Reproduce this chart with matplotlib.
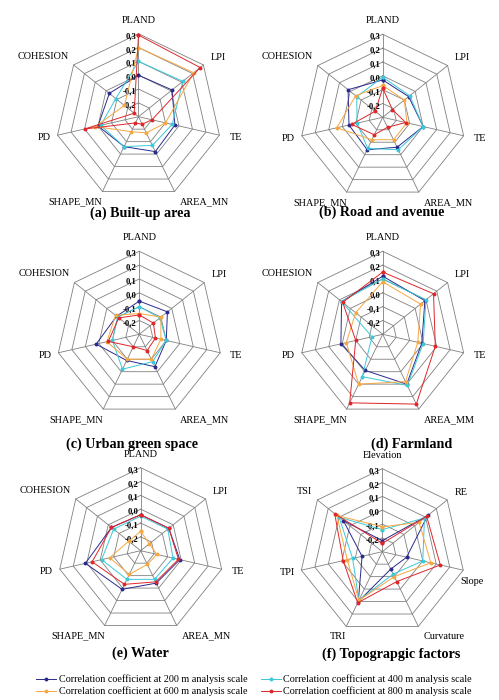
import matplotlib
matplotlib.use("Agg")
import matplotlib.pyplot as plt
from matplotlib.lines import Line2D
import numpy as np

plt.rcParams['font.family'] = ['Liberation Serif', 'DejaVu Serif']

# axis names
landscape_axes = ["PLAND", "LPI", "TE", "AREA_MN", "SHAPE_MN", "PD", "COHESION"]
farmland_axes = ["PLAND", "LPI", "TE", "AREA_MM", "SHAPE_MN", "PD", "COHESION"]
topo_axes = ["Elevation", "RE", "Slope", "Curvature", "TRI", "TPI", "TSI"]

scale_names = ["200 m", "400 m", "600 m", "800 m"]
colors = ["#2a2a8c", "#3cc8d8", "#f5a742", "#e0262a"]

# correlation coefficients, one list per scale (200, 400, 600, 800 m)
built_200 = [0.00, 0.01, -0.03, -0.02, -0.06, 0.00, -0.03]
built_400 = [0.10, 0.11, -0.05, -0.07, -0.06, -0.02, -0.09]
built_600 = [0.20, 0.21, -0.10, -0.17, -0.18, 0.02, -0.17]
built_800 = [0.29, 0.27, -0.20, -0.24, -0.25, 0.10, -0.26]

road_200 = [-0.03, -0.06, 0.00, -0.06, -0.04, -0.05, 0.02]
road_400 = [-0.01, -0.05, 0.00, -0.04, -0.05, -0.11, -0.06]
road_600 = [-0.07, -0.10, -0.12, -0.12, -0.12, 0.04, -0.05]
road_800 = [-0.09, -0.21, -0.13, -0.22, -0.16, -0.07, -0.23]

green_200 = [-0.06, -0.04, -0.10, -0.04, -0.09, 0.02, -0.09]
green_400 = [-0.10, -0.11, -0.10, -0.08, -0.02, -0.10, -0.10]
green_600 = [-0.15, -0.10, -0.14, -0.10, -0.10, -0.06, -0.08]
green_800 = [-0.16, -0.17, -0.18, -0.17, -0.20, -0.07, -0.11]

farm_200 = [0.12, 0.09, -0.01, 0.10, -0.01, 0.01, 0.08]
farm_400 = [0.10, 0.10, 0.00, 0.11, 0.04, -0.22, 0.08]
farm_600 = [0.08, 0.05, -0.04, 0.08, 0.10, -0.03, -0.05]
farm_800 = [0.15, 0.17, 0.09, 0.26, 0.25, -0.10, 0.07]

water_200 = [-0.04, -0.04, -0.01, -0.04, 0.01, 0.11, -0.03]
water_400 = [-0.05, -0.05, -0.06, -0.07, -0.07, -0.01, -0.05]
water_600 = [-0.16, -0.22, -0.18, -0.19, -0.11, -0.07, -0.19]
water_800 = [-0.04, -0.04, -0.02, -0.05, -0.03, 0.06, -0.03]

topo_200 = [-0.22, 0.12, -0.12, -0.16, 0.10, -0.15, 0.06]
topo_400 = [-0.14, 0.09, 0.00, -0.12, 0.09, -0.08, 0.10]
topo_600 = [-0.12, 0.04, 0.06, -0.10, 0.09, -0.04, 0.12]
topo_800 = [-0.24, 0.11, 0.13, -0.06, 0.11, -0.01, 0.14]

tick_levels = [-0.2, -0.1, 0.0, 0.1, 0.2, 0.3]
vmin, vmax = -0.3, 0.3

W, H = 499, 700
R = 83  # outer ring radius in pixels
S = 125  # half size of each panel axes in pixels

fig = plt.figure(figsize=(W / 100, H / 100), dpi=100)

# where each axis name sits relative to its vertex
label_offsets = [(0, 1.11, 'center', 'bottom'),
                 (0.09, 0.04, 'left', 'bottom'),
                 (0.12, -0.03, 'left', 'center'),
                 (0.06, -0.07, 'left', 'top'),
                 (0.0, -0.07, 'right', 'top'),
                 (-0.08, -0.03, 'right', 'center'),
                 (-0.06, 0.05, 'right', 'bottom')]


def to_r(v):
    return (np.asarray(v) - vmin) / (vmax - vmin)


def radar(cx, cy, labels, series, title, tx, ty, extra_offsets=None):
    ax = fig.add_axes([(cx - S) / W, 1 - (cy + S) / H, 2 * S / W, 2 * S / H])
    ax.set_xlim(-S / R, S / R)
    ax.set_ylim(-S / R, S / R)
    ax.axis('off')

    n = len(labels)
    ang = np.pi / 2 - 2 * np.pi * np.arange(n) / n
    cosa, sina = np.cos(ang), np.sin(ang)

    # grid rings and spokes
    for lvl in tick_levels:
        r = to_r(lvl)
        ax.plot(np.append(r * cosa, r * cosa[0]), np.append(r * sina, r * sina[0]),
                color="#808080", lw=0.6, zorder=1)
    for k in range(n):
        ax.plot([0, cosa[k]], [0, sina[k]], color="#808080", lw=0.6, zorder=1)

    # tick labels along the top axis
    for lvl in tick_levels:
        ax.text(-0.03, to_r(lvl) - 0.03, f"{lvl:.1f}".replace('.', ','),
                ha='right', va='center', fontsize=6.2, fontweight='bold')

    offs = list(label_offsets)
    if extra_offsets:
        for k, o in extra_offsets.items():
            offs[k] = o
    for k, lab in enumerate(labels):
        dx, dy, ha, va = offs[k]
        if k == 0:
            x, y = 0, dy
        else:
            x, y = cosa[k] + dx, sina[k] + dy
        ax.text(x, y, lab, ha=ha, va=va, fontsize=7.4)

    for vals, col in zip(series, colors):
        r = to_r(vals)
        xs = np.append(r * cosa, r[0] * cosa[0])
        ys = np.append(r * sina, r[0] * sina[0])
        ax.plot(xs, ys, color=col, lw=0.7, marker='o', markersize=1.8, zorder=3)

    fig.text(tx / W, 1 - ty / H, title, ha='center', va='center',
             fontsize=10.2, fontweight='bold')


radar(138.5, 116.7, landscape_axes, [built_200, built_400, built_600, built_800],
      "(a) Built-up area", 140, 213)
radar(382.7, 117.3, landscape_axes, [road_200, road_400, road_600, road_800],
      "(b) Road and avenue", 381.5, 212)
radar(139.3, 334.3, landscape_axes, [green_200, green_400, green_600, green_800],
      "(c) Urban green space", 132, 444)
radar(382.7, 334.3, farmland_axes, [farm_200, farm_400, farm_600, farm_800],
      "(d) Farmland", 411.5, 444)
radar(140.7, 550.7, landscape_axes, [water_200, water_400, water_600, water_800],
      "(e) Water", 140, 653)
radar(382.3, 551.7, topo_axes, [topo_200, topo_400, topo_600, topo_800],
      "(f) Topograpgic factors", 391, 654,
      extra_offsets={2: (-0.03, -0.14, 'left', 'center')})

handles = [Line2D([], [], color=c, lw=0.7, marker='o', markersize=1.8) for c in colors]
names = [f"Correlation coefficient at {s} analysis scale" for s in scale_names]
order = [0, 2, 1, 3]
fig.legend([handles[i] for i in order], [names[i] for i in order], ncol=2,
           loc='center', bbox_to_anchor=(254 / W, 1 - 685.5 / H), frameon=False,
           fontsize=7.3, handlelength=2.0, handletextpad=0.25, labelspacing=0.2,
           columnspacing=1.3, borderpad=0)

fig.savefig("out.png", dpi=100)
